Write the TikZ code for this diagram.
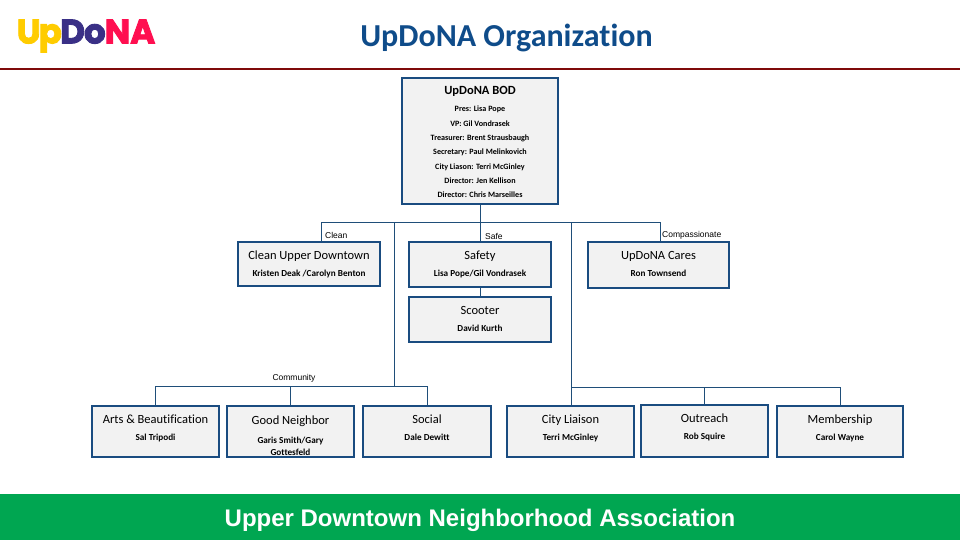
\documentclass[tikz,border=0pt]{standalone}
\usepackage{fontspec}
\setmainfont{Carlito}[Ligatures=CommonOff]
\newfontfamily\arialfont{Liberation Sans}
\newfontfamily\logofont[FakeBold=2.6]{Poppins Bold}
\definecolor{boxblue}{HTML}{1A4C80}
\definecolor{linkblue}{HTML}{1F4E79}
\definecolor{boxgray}{HTML}{F2F2F2}
\definecolor{rulered}{HTML}{7F0A0A}
\definecolor{footgreen}{HTML}{00A651}
\definecolor{titleblue}{HTML}{0F4C8A}
\definecolor{logoyellow}{HTML}{FFCC00}
\definecolor{logonavy}{HTML}{3A3086}
\definecolor{logored}{HTML}{FF0F50}
\newcommand\orgname[1]{{\fontsize{9.2}{14.3}\selectfont\bfseries #1}}
\newcommand\bodname[1]{{\fontsize{8.1}{14.3}\selectfont\bfseries #1}}
\newcommand\orgtext[2]{\parbox[c][#1pt][t]{125pt}{\centering\fontsize{12.5}{14.3}\selectfont\rule{0pt}{17pt}#2\par}}
\tikzset{
  orgbox/.style n args={2}{draw=boxblue, line width=2pt, fill=boxgray, inner sep=0pt,
    minimum width=#1*1pt, minimum height=#2*1pt},
  linkline/.style={draw=linkblue, line width=1pt},
  armlabel/.style={font=\arialfont\fontsize{8.5}{9}\selectfont, inner sep=0pt}
}
\begin{document}
\begin{tikzpicture}[x=1pt,y=-1pt]
\useasboundingbox (0,0) rectangle (960,540);
\fill[footgreen] (0,494) rectangle (960,540);
\draw[rulered, line width=2pt] (0,69) -- (960,69);
\node[font=\logofont\fontsize{34}{34}\selectfont, inner sep=0pt] (logo) at (86,36)
  {\textcolor{logoyellow}{U\kern-2pt p}\kern-1.5pt\textcolor{logonavy}{D\kern-1pt o}\kern-1pt\textcolor{logored}{NA}};
\node[font=\fontsize{32}{34}\selectfont\bfseries, text=titleblue, inner sep=0pt] (title) at (506.5,38) {UpDoNA Organization};
\node[font=\arialfont\fontsize{24}{26}\selectfont\bfseries, text=white, inner sep=0pt] (footer) at (480,520) {Upper Downtown Neighborhood Association};

\node[orgbox={156}{126}] (bod) at (480,141) {\orgtext{126}{\textbf{UpDoNA BOD}\\[2.7pt]\bodname{Pres: Lisa Pope}\\\bodname{VP: Gil Vondrasek}\\\bodname{Treasurer: Brent Strausbaugh}\\\bodname{Secretary: Paul Melinkovich}\\\bodname{City Liason: Terri McGinley}\\\bodname{Director: Jen Kellison}\\\bodname{Director: Chris Marseilles}}};
\node[orgbox={142}{44}] (clean) at (309,264) {\orgtext{44}{Clean Upper Downtown\\[2.7pt]\orgname{Kristen Deak /Carolyn Benton}}};
\node[orgbox={142}{45}] (safety) at (480,264.5) {\orgtext{45}{Safety\\[2.7pt]\orgname{Lisa Pope/Gil Vondrasek}}};
\node[orgbox={142}{45}] (scooter) at (480,319.5) {\orgtext{45}{Scooter\\[2.7pt]\orgname{David Kurth}}};
\node[orgbox={141}{46}] (cares) at (658.5,265) {\orgtext{46}{UpDoNA Cares\\[2.7pt]\orgname{Ron Townsend}}};
\node[orgbox={127}{51}] (arts) at (155.5,431.5) {\orgtext{51}{Arts \& Beautification\\[2.7pt]\orgname{Sal Tripodi}}};
\node[orgbox={127}{51}] (goodn) at (290.5,431.5) {\orgtext{51}{\rule{0pt}{18pt}Good Neighbor\\[4.7pt]\orgname{Garis Smith/Gary}\\[-2pt]\orgname{Gottesfeld}}};
\node[orgbox={128}{51}] (social) at (427,431.5) {\orgtext{51}{Social\\[2.7pt]\orgname{Dale Dewitt}}};
\node[orgbox={127}{51}] (cityl) at (570.5,431.5) {\orgtext{51}{City Liaison\\[2.7pt]\orgname{Terri McGinley}}};
\node[orgbox={127}{52}] (outreach) at (704.5,431) {\orgtext{52}{Outreach\\[2.7pt]\orgname{Rob Squire}}};
\node[orgbox={126}{51}] (member) at (840,431.5) {\orgtext{51}{Membership\\[2.7pt]\orgname{Carol Wayne}}};

\node[armlabel, anchor=west] (cleanlabel) at (325,235) {Clean};
\node[armlabel, anchor=west] (safelabel) at (485,236) {Safe};
\node[armlabel, anchor=west] (careslabel) at (662,235) {Compassionate};
\node[armlabel] (commlabel) at (294,378) {Community};

\coordinate (topbus) at (480,222);
\coordinate (cleanbus) at (321,222);
\coordinate (caresbus) at (660,222);
\coordinate (commbus) at (394,222);
\coordinate (citybus) at (571,222);
\coordinate (commjoin) at (394,386);
\coordinate (cityjoin) at (571,387);
\draw[linkline] (bod) -- (safety);
\draw[linkline] (safety) -- (scooter);
\draw[linkline] (cleanbus) -- (caresbus);
\draw[linkline] (cleanbus) -- (cleanbus |- clean.north);
\draw[linkline] (caresbus) -- (caresbus |- cares.north);
\draw[linkline] (commbus) -- (commjoin);
\draw[linkline] (citybus) -- (citybus |- cityl.north);
\draw[linkline] (arts.north) |- (social.north |- commjoin) -- (social.north);
\draw[linkline] (goodn.north) -- (goodn.north |- commjoin);
\draw[linkline] (cityjoin) -| (member.north);
\draw[linkline] (outreach.north) -- (outreach.north |- cityjoin);
\end{tikzpicture}
\end{document}
